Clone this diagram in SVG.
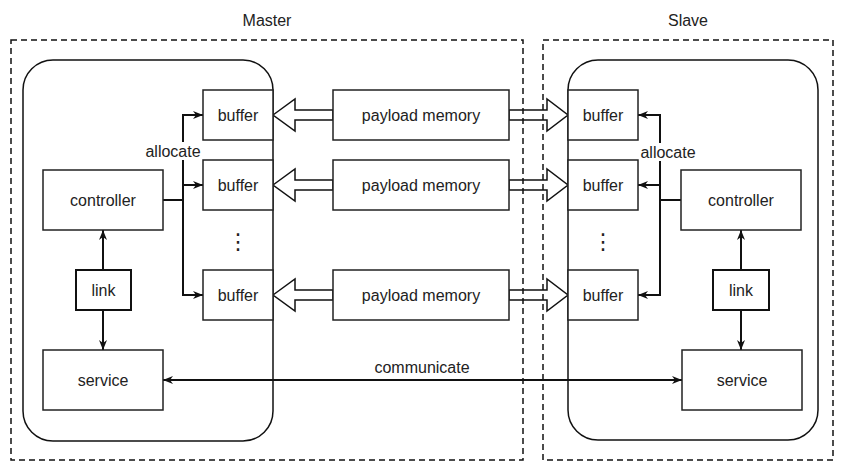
<svg xmlns="http://www.w3.org/2000/svg" width="844" height="472" viewBox="0 0 844 472">
<style>
text{font-family:"Liberation Sans",Arial,Helvetica,sans-serif;font-size:16px;fill:#222;text-anchor:middle;dominant-baseline:central}
text.dots{font-family:"DejaVu Sans",sans-serif;font-size:22px}
.box{fill:#fff;stroke:#222;stroke-width:1.5}
.lnk{fill:#fff;stroke:#111;stroke-width:2}
.round{fill:#fff;stroke:#111;stroke-width:1.5}
.dash{fill:none;stroke:#111;stroke-width:1.5;stroke-dasharray:6 4}
.edge{fill:none;stroke:#111;stroke-width:2}
.blk{fill:#fff;stroke:#111;stroke-width:1.5;stroke-linejoin:miter}
</style>
<defs>
<marker id="ah" viewBox="0 0 10 8" refX="10" refY="4" markerWidth="10" markerHeight="8" markerUnits="userSpaceOnUse" orient="auto-start-reverse">
<path d="M0,0 L10,4 L0,8 L3,4 z" fill="#111"/>
</marker>
</defs>
<rect width="844" height="472" fill="#fff"/>
<g id="master-body"><rect class="round" x="23" y="60" width="250" height="381" rx="30" ry="30"/></g>
<g id="slave-body"><rect class="round" x="568" y="60" width="250" height="380" rx="30" ry="30"/></g>

<g id="connectors">
<path class="edge" d="M163,200 H183" stroke-width="3"/>
<path class="edge" d="M183,200 V115 H203" marker-end="url(#ah)"/>
<path class="edge" d="M183,200 V185 H203" marker-end="url(#ah)"/>
<path class="edge" d="M183,200 V295 H203" marker-end="url(#ah)"/>
<path class="edge" d="M681,200 H660" stroke-width="3"/>
<path class="edge" d="M660,200 V115 H638" marker-end="url(#ah)"/>
<path class="edge" d="M660,200 V185 H638" marker-end="url(#ah)"/>
<path class="edge" d="M660,200 V295 H638" marker-end="url(#ah)"/>
<path class="edge" d="M103,270 V230" marker-end="url(#ah)"/>
<path class="edge" d="M103,310 V350" marker-end="url(#ah)"/>
<path class="edge" d="M741,270 V230" marker-end="url(#ah)"/>
<path class="edge" d="M741,310 V350" marker-end="url(#ah)"/>
<path class="edge" d="M163,380 H682" marker-start="url(#ah)" marker-end="url(#ah)"/>
<g id="block-arrows">
<path class="blk" d="M273,115 L295,99 L295,110 L333,110 L333,120 L295,120 L295,131 Z"/>
<path class="blk" d="M273,185 L295,169 L295,180 L333,180 L333,190 L295,190 L295,201 Z"/>
<path class="blk" d="M273,295 L295,279 L295,290 L333,290 L333,300 L295,300 L295,311 Z"/>
<path class="blk" d="M509,110 L547,110 L547,99 L568,115 L547,131 L547,120 L509,120 Z"/>
<path class="blk" d="M509,180 L547,180 L547,169 L568,185 L547,201 L547,190 L509,190 Z"/>
<path class="blk" d="M509,290 L547,290 L547,279 L568,295 L547,311 L547,300 L509,300 Z"/>
</g>
<rect x="145" y="142" width="56" height="18" fill="#fff"/>
<text x="173" y="151">allocate</text>
<rect x="640" y="143" width="56" height="18" fill="#fff"/>
<text x="668" y="152">allocate</text>
<text x="422" y="367">communicate</text>
</g>

<g id="m-controller"><rect class="box" x="43" y="170" width="120" height="60"/><text x="103" y="200">controller</text></g>
<g id="m-link"><rect class="lnk" x="76" y="270" width="55" height="40"/><text x="103.5" y="290">link</text></g>
<g id="m-service"><rect class="box" x="43" y="350" width="120" height="60"/><text x="103" y="380">service</text></g>
<g id="m-buffer1"><rect class="box" x="203" y="90" width="70" height="50"/><text x="238" y="115">buffer</text></g>
<g id="m-buffer2"><rect class="box" x="203" y="160" width="70" height="50"/><text x="238" y="185">buffer</text></g>
<g id="m-dots"><text class="dots" x="238" y="241">⋮</text></g>
<g id="m-buffer3"><rect class="box" x="203" y="270" width="70" height="50"/><text x="238" y="295">buffer</text></g>

<g id="pm1"><rect class="box" x="333" y="90" width="176" height="50"/><text x="421" y="115">payload memory</text></g>
<g id="pm2"><rect class="box" x="333" y="160" width="176" height="50"/><text x="421" y="185">payload memory</text></g>
<g id="pm3"><rect class="box" x="333" y="270" width="176" height="50"/><text x="421" y="295">payload memory</text></g>

<g id="s-buffer1"><rect class="box" x="568" y="90" width="70" height="50"/><text x="603" y="115">buffer</text></g>
<g id="s-buffer2"><rect class="box" x="568" y="160" width="70" height="50"/><text x="603" y="185">buffer</text></g>
<g id="s-dots"><text class="dots" x="603" y="241">⋮</text></g>
<g id="s-buffer3"><rect class="box" x="568" y="270" width="70" height="50"/><text x="603" y="295">buffer</text></g>
<g id="s-controller"><rect class="box" x="681" y="170" width="120" height="60"/><text x="741" y="200">controller</text></g>
<g id="s-link"><rect class="lnk" x="713" y="270" width="56" height="40"/><text x="741" y="290">link</text></g>
<g id="s-service"><rect class="box" x="682" y="350" width="120" height="60"/><text x="742" y="380">service</text></g>

<g id="master"><rect class="dash" x="11" y="40" width="512" height="420"/><text x="267" y="20">Master</text></g>
<g id="slave"><rect class="dash" x="543" y="40" width="290" height="420"/><text x="688" y="20">Slave</text></g>
</svg>
